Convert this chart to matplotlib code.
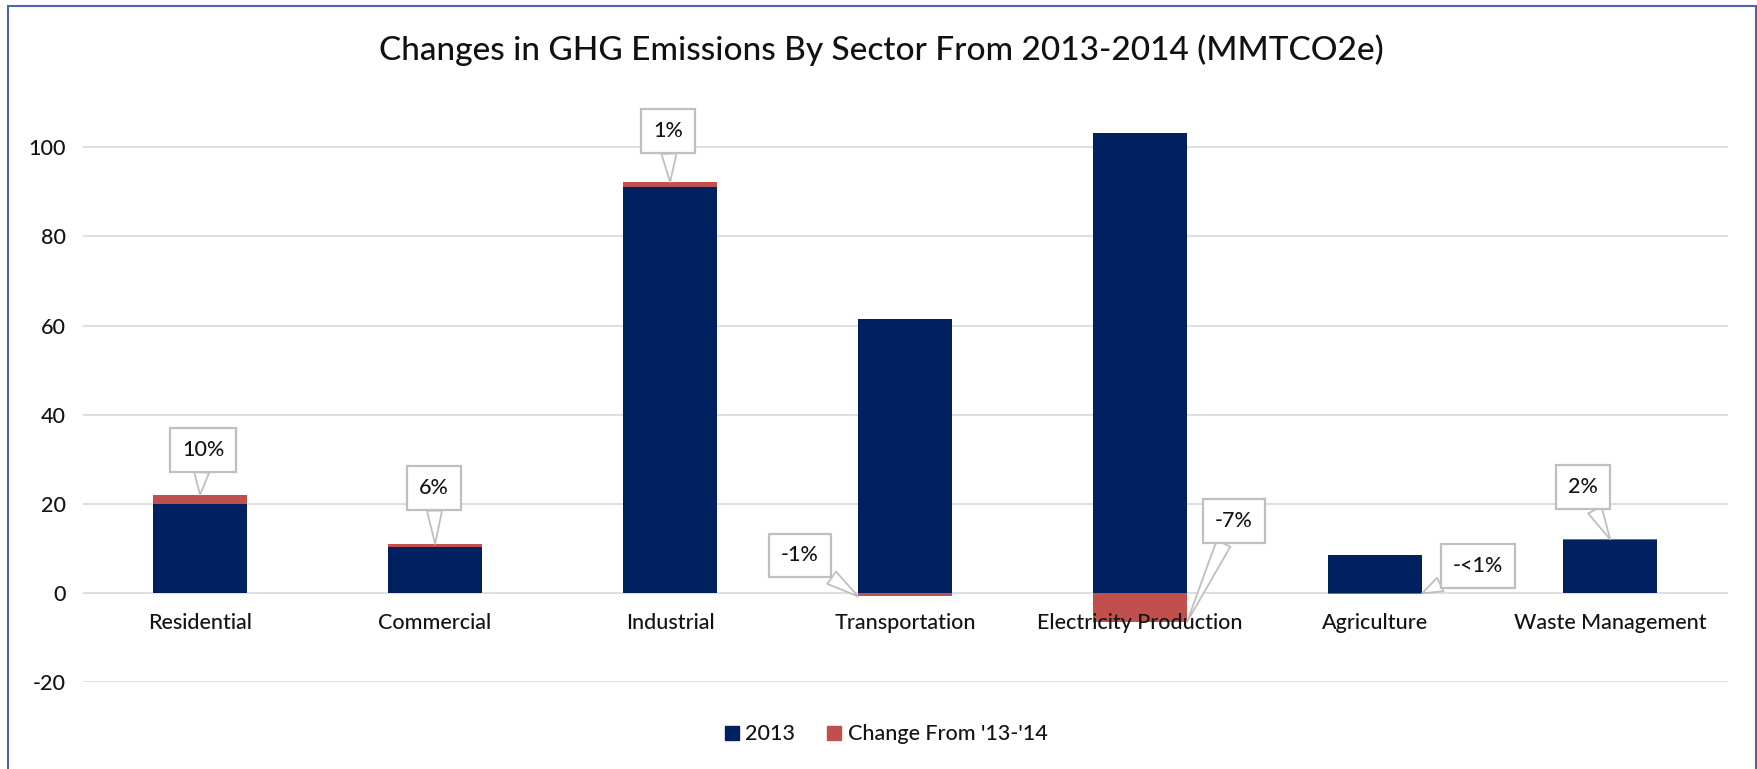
import matplotlib
matplotlib.use("Agg")
import matplotlib.pyplot as plt
from matplotlib.patches import Rectangle, Patch
import numpy as np

plt.rcParams['font.family'] = ['Lato', 'DejaVu Sans']
plt.rcParams['font.weight'] = 'medium'
plt.rcParams['axes.unicode_minus'] = False

# data (MMTCO2e)
sectors = ['Residential', 'Commercial', 'Industrial', 'Transportation',
           'Electricity Production', 'Agriculture', 'Waste Management']
emissions_2013 = [20.0, 10.4, 91.0, 61.4, 103.3, 8.65, 11.85]
change_13_14 = [2.1, 0.65, 1.2, -0.7, -6.4, -0.05, 0.25]
pct_labels = ['10%', '6%', '1%', '-1%', '-7%', '-<1%', '2%']
y_ticks = [-20, 0, 20, 40, 60, 80, 100]

# callout placement: which bar corner the leader points at, and box offset in pixels
anchor_side = [0, 0, 0, -1, 1, 1, 0]
label_offsets = [(3, 45), (-1, 56), (-2, 51), (-58, 41), (47, 101), (56, 27), (-27, 52)]

NAVY = '#002060'
RED = '#C0504D'
GRID = '#d9d9d9'
TXT = '#141414'
FS = 15.5

fig = plt.figure(figsize=(17.58, 7.69), dpi=100)
ax = fig.add_axes([0.047, 0.1125, 0.9357, 0.754])

x = np.arange(len(sectors))
w = 0.4
base = np.array(emissions_2013)
chg = np.array(change_13_14)
# positive changes stack on top of 2013, negative ones hang below zero
chg_bottom = np.where(chg >= 0, base, 0)
ax.bar(x, base, width=w, color=NAVY, zorder=2, label='2013')
ax.bar(x, chg, width=w, bottom=chg_bottom, color=RED, zorder=2, label="Change From '13-'14")

ax.set_xlim(-0.5, len(sectors) - 0.5)
ax.set_ylim(-20, 110)
ax.set_yticks(y_ticks)
ax.set_axisbelow(True)
ax.yaxis.grid(True, color=GRID, linewidth=1.2)
ax.tick_params(axis='y', length=0, pad=12, labelsize=FS, labelcolor=TXT)
for s in ax.spines.values():
    s.set_visible(False)

# category labels sit under the zero line, on top of the bars
ax.spines['bottom'].set_position(('data', 0))
ax.set_xticks(x)
ax.set_xticklabels(sectors)
ax.tick_params(axis='x', length=0, pad=14, labelsize=FS, labelcolor=TXT)
ax.xaxis.set_zorder(3)

for i in range(len(sectors)):
    side = anchor_side[i]
    if chg[i] >= 0:
        tip_y = base[i] + chg[i]
    else:
        tip_y = chg[i]
    if pct_labels[i] == '-<1%':
        tip_y = 0
    tip = (x[i] + side * w / 2, tip_y)
    ax.annotate(pct_labels[i], xy=tip, xytext=label_offsets[i], textcoords='offset pixels',
                ha='center', va='center', fontsize=FS, color=TXT, zorder=4,
                bbox=dict(boxstyle='square,pad=0.55', fc='white', ec='#bfbfbf', lw=1.6),
                arrowprops=dict(arrowstyle='wedge,tail_width=0.7', fc='white', ec='#bfbfbf',
                                lw=1.3, shrinkA=0, shrinkB=0))

fig.text(0.5014, 0.935, 'Changes in GHG Emissions By Sector From 2013-2014 (MMTCO2e)',
         ha='center', va='center', fontsize=24, color='#111111')

handles = [Patch(color=NAVY), Patch(color=RED)]
fig.legend(handles, ['2013', "Change From '13-'14"], loc='center', ncol=2,
           bbox_to_anchor=(0.504, 0.045), frameon=False, fontsize=FS,
           handlelength=0.65, handleheight=0.65, handletextpad=0.3, columnspacing=1.5,
           labelcolor=TXT)

# chart border
fig.patches.append(Rectangle((0.0046, -0.2), 0.9943, 1.1926, transform=fig.transFigure,
                             fill=False, ec='#4a66a8', lw=1.5))

fig.savefig('out.png', dpi=100)
